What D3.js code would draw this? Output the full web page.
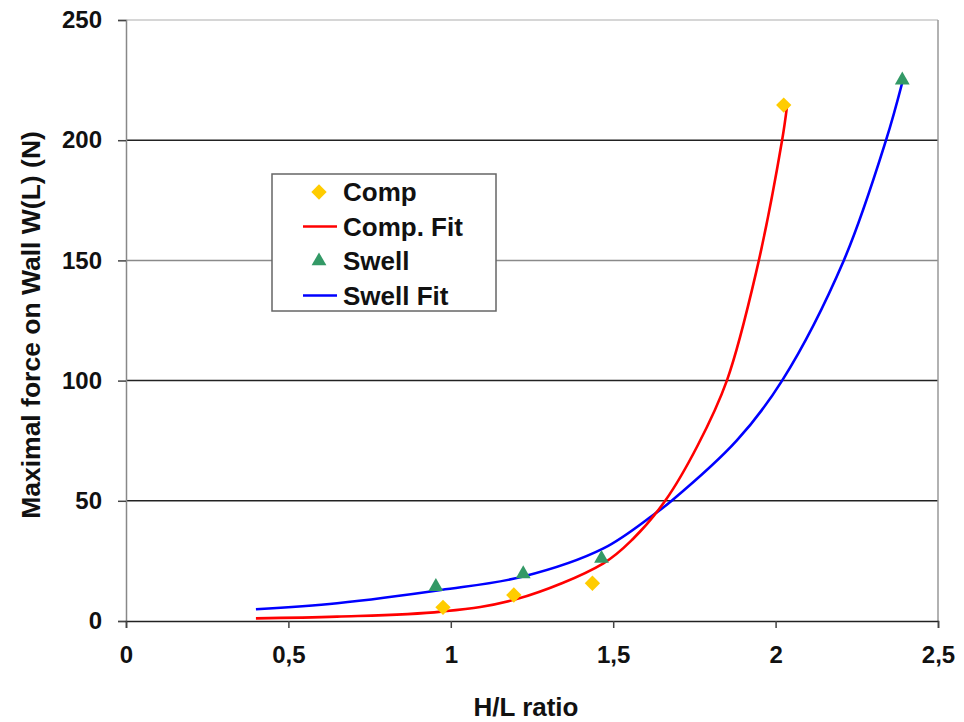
<!DOCTYPE html>
<html>
<head>
<meta charset="utf-8">
<script src="https://cdn.jsdelivr.net/npm/d3@7"></script>
<style>
  body { margin: 0; background: #fff; }
  text { font-family: "Liberation Sans", Arial, sans-serif; font-weight: bold; }
</style>
</head>
<body>
<div id="chart"></div>
<script>
// measured points
const compX = [0.976, 1.194, 1.436, 2.025];
const compY = [5.7, 10.8, 15.7, 214.6];
const swellX = [0.954, 1.223, 1.464, 2.39];
const swellY = [14.3, 19.6, 26.0, 225];

// fitted curves
const compFitX = [0.40, 0.65, 0.97, 1.20, 1.47, 1.56, 1.66, 1.76, 1.85, 1.94, 2.02, 2.035];
const compFitY = [1.1, 1.8, 3.9, 9.0, 24, 34, 50, 73, 100, 145, 200, 214];
const swellFitX = [0.40, 0.65, 0.97, 1.22, 1.47, 1.63, 1.68, 1.88, 2.02, 2.21, 2.34, 2.39];
const swellFitY = [4.9, 7.4, 12.9, 18.4, 30.2, 44.8, 50, 75, 100, 150, 200, 224];

const xTicks = [0, 0.5, 1, 1.5, 2, 2.5];
const yTicks = [0, 50, 100, 150, 200, 250];
const legendLabels = ["Comp", "Comp. Fit", "Swell", "Swell Fit"];

const W = 964, H = 722;
const margin = { top: 20, right: 26, bottom: 101, left: 126 };
const width = W - margin.left - margin.right,
  height = H - margin.top - margin.bottom;

const svg = d3.select("#chart")
  .append("svg")
  .attr("width", W)
  .attr("height", H)
  .append("g")
  .attr("transform", "translate(" + margin.left + "," + margin.top + ")");

const x = d3.scaleLinear().domain([0, 2.5]).range([0, width]);
const y = d3.scaleLinear().domain([0, 250]).range([height, 0]);

const fmt = d => String(d).replace(".", ",");

// gridlines
svg.selectAll(".grid")
  .data(yTicks.filter(d => d > 0 && d < 250))
  .enter()
  .append("line")
  .attr("x1", 0).attr("x2", width)
  .attr("y1", d => y(d)).attr("y2", d => y(d))
  .style("stroke", d => d === 150 ? "#8a8a8a" : "#222")
  .style("stroke-width", 1.5);

// plot frame top / right
svg.append("line")
  .attr("x1", 0).attr("x2", width).attr("y1", 0).attr("y2", 0)
  .style("stroke", "#c8c8c8").style("stroke-width", 1.5);
svg.append("line")
  .attr("x1", width).attr("x2", width).attr("y1", 0).attr("y2", height)
  .style("stroke", "#999").style("stroke-width", 1.5);

// y axis
const yAxis = svg.append("g")
  .call(d3.axisLeft(y).tickValues(yTicks).tickSize(8).tickPadding(16).tickFormat(d => d));
yAxis.select(".domain").style("stroke", "#888").style("stroke-width", 1.5);
yAxis.selectAll(".tick line").style("stroke", "#444").style("stroke-width", 1.5);
yAxis.selectAll("text").style("font-size", "24px").style("fill", "#111");

// x axis
const xAxis = svg.append("g")
  .attr("transform", "translate(0," + height + ")")
  .call(d3.axisBottom(x).tickValues(xTicks).tickSize(7).tickPadding(18).tickFormat(fmt));
xAxis.select(".domain").style("stroke", "#222").style("stroke-width", 1.5);
xAxis.selectAll(".tick line").style("stroke", "#444").style("stroke-width", 1.5);
xAxis.selectAll("text").style("font-size", "24px").style("fill", "#111");

// axis titles
svg.append("text")
  .attr("x", x(1.25) - 6)
  .attr("y", height + 95)
  .attr("text-anchor", "middle")
  .style("font-size", "26px")
  .style("fill", "#111")
  .text("H/L ratio");

svg.append("text")
  .attr("transform", "translate(" + (-86) + "," + (325 - margin.top) + ") rotate(-90)")
  .attr("text-anchor", "middle")
  .style("font-size", "26.5px")
  .style("fill", "#111")
  .text("Maximal force on Wall W(L) (N)");

// fit lines
const line = d3.line()
  .x(d => x(d[0]))
  .y(d => y(d[1]))
  .curve(d3.curveCatmullRom.alpha(0.5));

svg.append("path")
  .datum(d3.zip(swellFitX, swellFitY))
  .attr("d", line)
  .style("fill", "none")
  .style("stroke", "#0000ff")
  .style("stroke-width", 2.6);

svg.append("path")
  .datum(d3.zip(compFitX, compFitY))
  .attr("d", line)
  .style("fill", "none")
  .style("stroke", "#ff0000")
  .style("stroke-width", 2.6);

// markers
const diamond = d3.symbol().type(d3.symbolDiamond2).size(150);
const triangle = d3.symbol().type(d3.symbolTriangle).size(95);

svg.selectAll(".comp")
  .data(d3.zip(compX, compY))
  .enter()
  .append("path")
  .attr("d", diamond)
  .attr("transform", d => "translate(" + x(d[0]) + "," + y(d[1]) + ")")
  .style("fill", "#ffcc00");

svg.selectAll(".swell")
  .data(d3.zip(swellX, swellY))
  .enter()
  .append("path")
  .attr("d", triangle)
  .attr("transform", d => "translate(" + x(d[0]) + "," + y(d[1]) + ")")
  .style("fill", "#339966");

// legend
const lg = svg.append("g")
  .attr("transform", "translate(" + (272 - margin.left) + "," + (174 - margin.top) + ")");
lg.append("rect")
  .attr("width", 224).attr("height", 137)
  .style("fill", "#fff")
  .style("stroke", "#666")
  .style("stroke-width", 1.5);

const rows = lg.selectAll(".row")
  .data(legendLabels)
  .enter()
  .append("g")
  .attr("transform", (d, i) => "translate(0," + (18 + i * 34.5) + ")");

rows.append("text")
  .attr("x", 71)
  .attr("dy", "0.35em")
  .style("font-size", "26px")
  .style("fill", "#111")
  .text(d => d);

rows.filter((d, i) => i === 0).append("path")
  .attr("d", diamond).attr("transform", "translate(47,0)").style("fill", "#ffcc00");
rows.filter((d, i) => i === 2).append("path")
  .attr("d", triangle).attr("transform", "translate(47,0)").style("fill", "#339966");
rows.filter((d, i) => i === 1 || i === 3).append("line")
  .attr("x1", 31).attr("x2", 65)
  .style("stroke", (d, i) => i === 0 ? "#ff0000" : "#0000ff")
  .style("stroke-width", 2.6);
</script>
</body>
</html>
